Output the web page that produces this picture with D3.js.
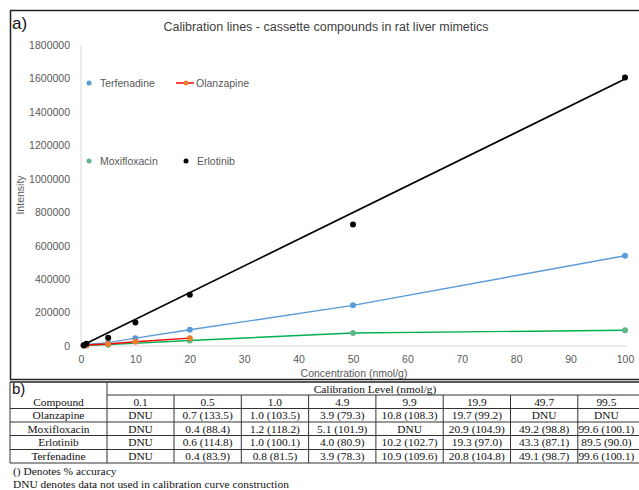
<!DOCTYPE html>
<html>
<head>
<meta charset="utf-8">
<script src="https://cdn.jsdelivr.net/npm/d3@7"></script>
<style>
  body { margin: 0; background: #fff; }
  svg { display: block; }
</style>
</head>
<body>
<svg id="chart" width="639" height="490"></svg>
<script>
// chart data (nominal concentration, nmol/g) - null means DNU
const chartConc = [0.5, 1, 5, 10, 20, 50, 100];
const olanzapine = [3000, 6000, 12000, 25000, 47000, null, null];
const moxifloxacin = [1500, 3500, 8000, null, 33000, 78000, 94000];
const erlotinib = [5000, 14000, 50000, 141000, 306000, 726000, 1605000];
const terfenadine = [4000, 9000, 20000, 47000, 97000, 243000, 540000];

const xTicks = [0, 10, 20, 30, 40, 50, 60, 70, 80, 90, 100];
const yTicks = [0, 200000, 400000, 600000, 800000, 1000000, 1200000, 1400000, 1600000, 1800000];

// table data
const levels = ['0.1', '0.5', '1.0', '4.9', '9.9', '19.9', '49.7', '99.5'];
const compounds = ['Olanzapine', 'Moxifloxacin', 'Erlotinib', 'Terfenadine'];
const tblOlanzapine = ['DNU', '0.7 (133.5)', '1.0 (103.5)', '3.9 (79.3)', '10.8 (108.3)', '19.7 (99.2)', 'DNU', 'DNU'];
const tblMoxifloxacin = ['DNU', '0.4 (88.4)', '1.2 (118.2)', '5.1 (101.9)', 'DNU', '20.9 (104.9)', '49.2 (98.8)', '99.6 (100.1)'];
const tblErlotinib = ['DNU', '0.6 (114.8)', '1.0 (100.1)', '4.0 (80.9)', '10.2 (102.7)', '19.3 (97.0)', '43.3 (87.1)', '89.5 (90.0)'];
const tblTerfenadine = ['DNU', '0.4 (83.9)', '0.8 (81.5)', '3.9 (78.3)', '10.9 (109.6)', '20.8 (104.8)', '49.1 (98.7)', '99.6 (100.1)'];

const svg = d3.select('#chart');
const sans = '"Liberation Sans", Arial, sans-serif';
const serif = '"Liberation Serif", "Times New Roman", serif';
const grey = '#595959';

// outer frame of part a)
svg.append('rect')
    .attr('x', 10.5).attr('y', 10.5)
    .attr('width', 640).attr('height', 369)
    .attr('fill', 'none').attr('stroke', '#222').attr('stroke-width', 1.5);

svg.append('text').attr('x', 12).attr('y', 29)
    .attr('font-family', sans).attr('font-size', 17).attr('fill', '#111')
    .text('a)');

svg.append('text').attr('x', 326).attr('y', 31)
    .attr('text-anchor', 'middle')
    .attr('font-family', sans).attr('font-size', 12.5).attr('fill', '#404040')
    .text('Calibration lines - cassette compounds in rat liver mimetics');

const x = d3.scaleLinear().domain([0, 100]).range([81, 625]);
const y = d3.scaleLinear().domain([0, 1800000]).range([346, 45]);

// axes
const xAxis = svg.append('g').attr('transform', 'translate(0,346)')
    .call(d3.axisBottom(x).tickValues(xTicks).tickSize(0).tickPadding(10));
const yAxis = svg.append('g').attr('transform', 'translate(81,0)')
    .call(d3.axisLeft(y).tickValues(yTicks).tickSize(0).tickPadding(11).tickFormat(d3.format('d')));
[xAxis, yAxis].forEach(a => {
    a.select('.domain').attr('stroke', '#d9d9d9');
    a.selectAll('text').attr('font-family', sans).attr('font-size', 10.5).attr('fill', grey);
});
yAxis.select('.domain').attr('d', 'M0,45V346');
xAxis.select('.domain').attr('d', 'M81,0H627');

svg.append('text').attr('x', 354).attr('y', 377)
    .attr('text-anchor', 'middle')
    .attr('font-family', sans).attr('font-size', 10.5).attr('fill', grey)
    .text('Concentration (nmol/g)');
svg.append('text')
    .attr('transform', 'translate(24,195) rotate(-90)')
    .attr('text-anchor', 'middle')
    .attr('font-family', sans).attr('font-size', 10.5).attr('fill', grey)
    .text('Intensity');

const series = [
    {name: 'Terfenadine', values: terfenadine, marker: '#5b9bd5', line: '#5b9bd5', fit: false},
    {name: 'Moxifloxacin', values: moxifloxacin, marker: '#5cb887', line: '#00b050', fit: false},
    {name: 'Olanzapine', values: olanzapine, marker: '#ed7d31', line: '#ff0000', fit: false},
    {name: 'Erlotinib', values: erlotinib, marker: '#000000', line: '#000000', fit: true}
];

const lineGen = d3.line().x(d => x(d.c)).y(d => y(d.v));

series.forEach(s => {
    const pts = chartConc.map((c, i) => ({c: c, v: s.values[i]})).filter(d => d.v !== null);
    let linePts;
    if (s.fit) {
        // trend line, weighted least squares (weights ~ x) so it runs through the top point
        const w = pts.map(d => d.c);
        const sw = d3.sum(w);
        const mx = d3.sum(pts, (d, i) => w[i] * d.c) / sw;
        const my = d3.sum(pts, (d, i) => w[i] * d.v) / sw;
        const b = d3.sum(pts, (d, i) => w[i] * (d.c - mx) * (d.v - my)) /
                  d3.sum(pts, (d, i) => w[i] * (d.c - mx) * (d.c - mx));
        const a = my - b * mx;
        linePts = [{c: 0, v: Math.max(a, 0)}, {c: 100, v: a + b * 100}];
    } else {
        linePts = [{c: 0, v: 0}].concat(pts);
    }
    svg.append('path').datum(linePts)
        .attr('d', lineGen)
        .attr('fill', 'none').attr('stroke', s.line).attr('stroke-width', s.fit ? 1.7 : 1.4);
    svg.append('g').selectAll('circle').data(pts).enter().append('circle')
        .attr('cx', d => x(d.c)).attr('cy', d => y(d.v)).attr('r', 3)
        .attr('fill', s.marker);
});

// legend
const legend = [
    {name: 'Terfenadine', color: '#5b9bd5', lx: 89, ly: 83, line: null},
    {name: 'Olanzapine', color: '#ed7d31', lx: 186, ly: 83, line: '#ff0000'},
    {name: 'Moxifloxacin', color: '#5cb887', lx: 89, ly: 161, line: null},
    {name: 'Erlotinib', color: '#000000', lx: 186, ly: 161, line: null}
];
legend.forEach(l => {
    if (l.line) {
        svg.append('line').attr('x1', l.lx - 10).attr('x2', l.lx + 8)
            .attr('y1', l.ly).attr('y2', l.ly)
            .attr('stroke', l.line).attr('stroke-width', 1.5);
    }
    svg.append('circle').attr('cx', l.lx).attr('cy', l.ly).attr('r', 2.5).attr('fill', l.color);
    svg.append('text').attr('x', l.lx + (l.line ? 10 : 11)).attr('y', l.ly + 4)
        .attr('font-family', sans).attr('font-size', 10.5).attr('fill', grey)
        .text(l.name);
});

// table b)
const tbl = svg.append('g');
const colX = [10, 107].concat(levels.map((d, i) => 174 + i * 67.3));
colX[colX.length - 1] = 639;
const rowY = [382, 395, 408.5, 422, 435.5, 449.5, 463];
const tblRows = [tblOlanzapine, tblMoxifloxacin, tblErlotinib, tblTerfenadine];

tbl.append('line').attr('x1', 10).attr('x2', 639).attr('y1', rowY[0]).attr('y2', rowY[0])
    .attr('stroke', '#222').attr('stroke-width', 1.3);
tbl.append('line').attr('x1', 10).attr('x2', 10).attr('y1', rowY[0]).attr('y2', rowY[6])
    .attr('stroke', '#333').attr('stroke-width', 1);
tbl.append('line').attr('x1', 107).attr('x2', 107).attr('y1', rowY[0]).attr('y2', rowY[6])
    .attr('stroke', '#333').attr('stroke-width', 1);
tbl.append('line').attr('x1', 107).attr('x2', 639).attr('y1', rowY[1]).attr('y2', rowY[1])
    .attr('stroke', '#333').attr('stroke-width', 1);
for (let r = 2; r <= 6; r++) {
    tbl.append('line').attr('x1', 10).attr('x2', 639).attr('y1', rowY[r]).attr('y2', rowY[r])
        .attr('stroke', '#333').attr('stroke-width', 1);
}
for (let c = 2; c < colX.length - 1; c++) {
    tbl.append('line').attr('x1', colX[c]).attr('x2', colX[c]).attr('y1', rowY[1]).attr('y2', rowY[6])
        .attr('stroke', '#333').attr('stroke-width', 1);
}

const cellText = (tx, ty, t, anchor) => tbl.append('text')
    .attr('x', tx).attr('y', ty).attr('text-anchor', anchor || 'middle')
    .attr('font-family', serif).attr('font-size', 11.4).attr('fill', '#111').text(t);

tbl.append('text').attr('x', 12).attr('y', 394)
    .attr('font-family', sans).attr('font-size', 15).attr('fill', '#111').text('b)');
cellText(375, 393, 'Calibration  Level  (nmol/g)');
cellText(58.5, 406, 'Compound');
levels.forEach((lv, i) => cellText((colX[i + 1] + colX[i + 2]) / 2 - (i === 7 ? 2 : 0), 406, lv));
tblRows.forEach((row, r) => {
    cellText(58.5, rowY[r + 2] + 10.5, compounds[r]);
    row.forEach((t, i) => cellText((colX[i + 1] + colX[i + 2]) / 2 - (i === 7 ? 2 : 0), rowY[r + 2] + 10.5, t));
});

cellText(13, 475, '() Denotes % accuracy', 'start');
cellText(13, 488, 'DNU denotes data not used in calibration  curve construction', 'start');
</script>
</body>
</html>
